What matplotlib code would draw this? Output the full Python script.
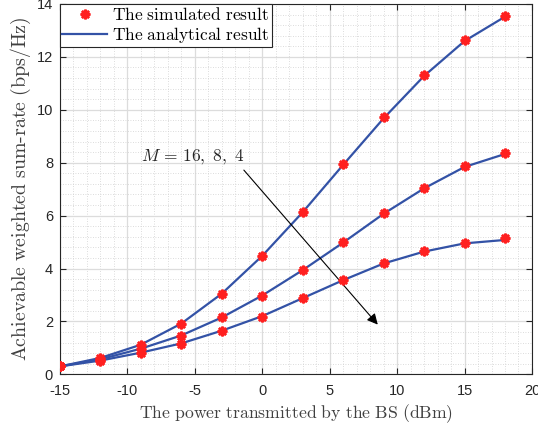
import matplotlib
matplotlib.use("Agg")
import matplotlib.pyplot as plt
from matplotlib.ticker import MultipleLocator

plt.rcParams['mathtext.fontset'] = 'cm'
plt.rcParams['axes.unicode_minus'] = False

# transmit power of the BS (dBm)
power_dbm = [-15, -12, -9, -6, -3, 0, 3, 6, 9, 12, 15, 18]

# simulated weighted sum-rate (bps/Hz) for M = 16, 8, 4
sim_m16 = [0.30, 0.60, 1.10, 1.90, 3.05, 4.48, 6.13, 7.96, 9.71, 11.32, 12.63, 13.55]
sim_m8 = [0.30, 0.55, 0.95, 1.45, 2.15, 2.97, 3.94, 4.99, 6.09, 7.04, 7.86, 8.38]
sim_m4 = [0.30, 0.50, 0.80, 1.15, 1.65, 2.18, 2.89, 3.56, 4.20, 4.65, 4.96, 5.14]

# analytical curves
ana_m16 = [0.30, 0.62, 1.12, 1.92, 3.05, 4.48, 6.13, 7.92, 9.68, 11.28, 12.60, 13.52]
ana_m8 = [0.30, 0.57, 0.97, 1.47, 2.15, 2.98, 3.94, 4.98, 6.07, 7.03, 7.84, 8.33]
ana_m4 = [0.30, 0.52, 0.82, 1.17, 1.65, 2.20, 2.88, 3.56, 4.19, 4.64, 4.95, 5.08]

line_col = '#3352a6'
mark_col = '#ff2020'
tick_col = '#262626'

fig = plt.figure(figsize=(5.38, 4.30), dpi=100)
ax = fig.add_axes([0.1115, 0.1295, 0.8773, 0.8612])

for ana in (ana_m16, ana_m8, ana_m4):
    ax.plot(power_dbm, ana, color=line_col, lw=1.6, zorder=3)
for sim in (sim_m16, sim_m8, sim_m4):
    ax.plot(power_dbm, sim, ls='none', marker=(8, 2, 0), ms=7, mew=1.8,
            color=mark_col, zorder=4)

ax.set_xlim(-15, 20)
ax.set_ylim(0, 14)
ax.xaxis.set_major_locator(MultipleLocator(5))
ax.yaxis.set_major_locator(MultipleLocator(2))
ax.xaxis.set_minor_locator(MultipleLocator(1))
ax.yaxis.set_minor_locator(MultipleLocator(0.4))
ax.grid(which='major', color='#dcdcdc', lw=0.9)
ax.grid(which='minor', color='#d0d0d0', lw=0.6, ls=(0, (1, 2)))
ax.set_axisbelow(True)

ax.tick_params(which='both', direction='in', top=True, right=True,
               colors=tick_col, labelsize=10.5)
ax.tick_params(which='minor', length=0)
ax.tick_params(which='major', length=4)
ax.tick_params(axis='x', which='major', pad=7)
ax.tick_params(axis='y', which='major', pad=5)
for lbl in ax.get_xticklabels() + ax.get_yticklabels():
    lbl.set_family('Liberation Sans')
for sp in ax.spines.values():
    sp.set_color(tick_col)
    sp.set_linewidth(0.8)

ax.set_xlabel(r'$\mathrm{The\ power\ transmitted\ by\ the\ BS\ (dBm)}$',
              fontsize=12.7, color='#404040', labelpad=3)
ax.set_ylabel(r'$\mathrm{Achievable\ weighted\ sum\text{-}rate\ (bps/Hz)}$',
              fontsize=14.3, color='#404040', labelpad=3)

# direction of decreasing M
ax.annotate('', xy=(8.7, 1.8), xytext=(-1.5, 7.8),
            arrowprops=dict(arrowstyle='-|>', color='black', lw=0.8,
                            mutation_scale=16))
ax.text(-9.0, 8.05, r'$M\,=\,\mathrm{16,\ 8,\ 4}$', fontsize=12.5, color='#262626')

# legend handles
h_sim, = ax.plot([], [], ls='none', marker=(8, 2, 0), ms=7, mew=1.8, color=mark_col)
h_ana, = ax.plot([], [], color=line_col, lw=1.6)
leg = ax.legend([h_sim, h_ana],
                [r'$\mathrm{The\ simulated\ result}$', r'$\mathrm{The\ analytical\ result}$'],
                loc='upper left', fontsize=12.5, frameon=True, fancybox=False,
                framealpha=1, edgecolor='#262626', borderaxespad=0.0,
                borderpad=0.12, handlelength=2.6, handletextpad=0.3,
                labelspacing=0.05)
leg.get_frame().set_linewidth(0.8)

fig.savefig('out.png', dpi=100)
